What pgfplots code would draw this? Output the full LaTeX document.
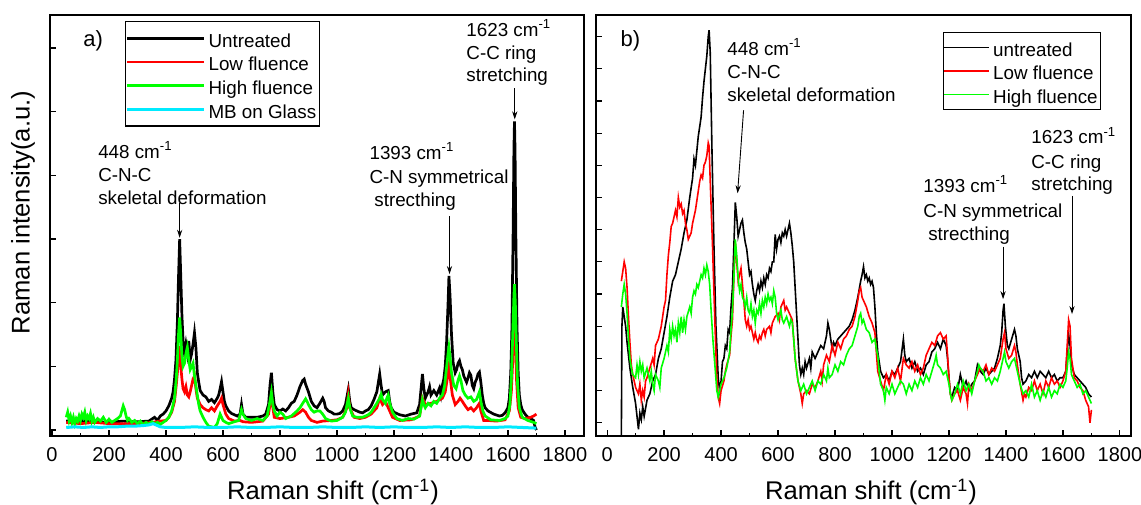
\documentclass[border=0pt]{standalone}
\usepackage{pgfplots}
\pgfplotsset{compat=1.18}
\usepackage{fontspec}
\setmainfont{Liberation Sans}
\usetikzlibrary{arrows.meta}

\definecolor{cred}{RGB}{255,0,0}
\definecolor{cgreen}{RGB}{0,255,0}
\definecolor{ccyan}{RGB}{0,235,255}

\pgfplotsset{
 ramanaxis/.style={
  scale only axis, anchor=south west, height=210.5pt,
  axis line style={line width=0.8pt},
  tick align=inside, tick pos=left,
  xtick={0,200,...,1800}, minor x tick num=1,
  major tick length=3pt, minor tick length=1.5pt,
  every tick/.style={black, line width=0.6pt},
  yticklabels={},
  tick label style={font=\fontsize{10}{12}\selectfont},
  /pgf/number format/assume math mode=true,
  /pgf/number format/1000 sep={},
  xticklabel style={yshift=-2pt},
  xlabel={Raman shift (cm\textsuperscript{-1})},
  label style={font=\fontsize{12.8}{15}\selectfont},
  legend style={font=\fontsize{9.4}{11}\selectfont, draw=black, line width=0.6pt, inner xsep=0pt, inner ysep=2.5pt, nodes={inner sep=1.5pt, text height=8.8pt, text depth=0pt}, row sep=0pt},
  legend cell align=left,
  no markers,
 },
}
\tikzset{
 annot/.style={font=\fontsize{9.4}{11}\selectfont, anchor=base west, inner sep=0pt},
 arr/.style={-{Stealth[length=4pt,width=2.6pt]}, line width=0.45pt, black},
 plab/.style={font=\fontsize{11}{13}\selectfont, anchor=base west, inner sep=0pt},
}

\begin{document}
\begin{tikzpicture}
\useasboundingbox (0,0) rectangle (570.5pt,252pt);

% ---------------- panel a ----------------
\begin{axis}[ramanaxis,
  at={(25pt,34pt)}, width=267pt,
  xmin=-7, xmax=1867, ymin=-0.094, ymax=6.52,
  ytick={0,1,2,3,4,5,6},
  ylabel={Raman intensity(a.u.)},
  ylabel style={at={(axis description cs:-0.0506,0.531)}, anchor=center},
  xlabel style={at={(axis description cs:0.530,-0.133)}, anchor=center},
  legend style={at={(0.1404,0.9857)}, anchor=north west},
  legend image code/.code={\path (0pt,0pt) -- (38.5pt,0pt); \draw[#1,line width=0.8pt] (17.5pt,0pt) -- (38.5pt,0pt);},
]
\addplot[black, line width=1.35pt] coordinates {
(50,0.14)(100,0.15)(150,0.13)(200,0.12)(250,0.14)(300,0.13)(340,0.14)(360,0.2)(370,0.15)(380,0.22)(390,0.25)(400,0.3)(410,0.38)(420,0.5)(425,0.6)(430,0.8)(435,1.1)(440,1.7)(444,2.4)(448,3.0)(452,2.4)(456,1.8)(460,1.4)(465,1.2)(470,1.35)(475,1.2)(480,1.4)(485,1.1)(490,1.2)(495,1.35)(500,1.53)(505,1.3)(510,0.9)(515,0.75)(520,0.62)(530,0.55)(540,0.52)(550,0.45)(560,0.48)(570,0.43)(580,0.5)(585,0.55)(590,0.65)(595,0.76)(600,0.6)(605,0.45)(610,0.38)(620,0.3)(630,0.26)(640,0.24)(650,0.22)(660,0.25)(665,0.4)(670,0.25)(680,0.2)(700,0.2)(720,0.2)(740,0.22)(750,0.25)(760,0.4)(765,0.7)(770,0.9)(775,0.6)(780,0.4)(790,0.32)(800,0.3)(810,0.33)(820,0.3)(830,0.35)(840,0.42)(850,0.45)(860,0.55)(870,0.68)(880,0.78)(885,0.8)(890,0.72)(900,0.6)(910,0.45)(920,0.38)(930,0.35)(940,0.42)(950,0.5)(955,0.45)(960,0.35)(970,0.3)(980,0.28)(990,0.25)(1000,0.25)(1010,0.26)(1020,0.3)(1030,0.4)(1040,0.64)(1045,0.45)(1050,0.35)(1060,0.32)(1070,0.3)(1080,0.28)(1090,0.27)(1100,0.3)(1110,0.32)(1120,0.38)(1130,0.48)(1140,0.6)(1150,0.88)(1155,0.7)(1160,0.55)(1170,0.6)(1180,0.62)(1185,0.45)(1190,0.35)(1200,0.28)(1220,0.24)(1240,0.22)(1260,0.25)(1280,0.27)(1290,0.4)(1300,0.88)(1305,0.65)(1310,0.5)(1320,0.6)(1325,0.68)(1330,0.55)(1340,0.62)(1350,0.55)(1360,0.66)(1365,0.55)(1370,0.7)(1375,0.8)(1380,1.0)(1385,1.4)(1390,2.0)(1393,2.42)(1397,2.1)(1402,1.5)(1408,1.05)(1415,0.9)(1420,0.95)(1425,1.05)(1430,1.09)(1435,1.0)(1440,0.95)(1445,0.85)(1450,0.8)(1455,0.75)(1460,0.82)(1465,0.9)(1470,0.86)(1475,0.7)(1480,0.65)(1485,0.75)(1490,0.8)(1495,0.88)(1500,0.91)(1505,0.75)(1510,0.55)(1515,0.42)(1520,0.35)(1530,0.3)(1550,0.25)(1570,0.22)(1580,0.23)(1590,0.27)(1600,0.35)(1605,0.5)(1610,0.9)(1614,1.6)(1618,3.0)(1621,4.4)(1623,4.85)(1625,4.4)(1628,3.0)(1632,1.6)(1636,0.9)(1640,0.55)(1645,0.4)(1650,0.32)(1660,0.25)(1670,0.2)(1680,0.18)(1690,0.15)(1695,0.05)(1700,0.0)};
\addlegendentry{Untreated}
\addplot[cred, line width=1.35pt] coordinates {
(50,0.12)(100,0.1)(150,0.12)(200,0.1)(250,0.1)(300,0.1)(350,0.12)(380,0.14)(400,0.15)(410,0.2)(420,0.28)(430,0.45)(436,0.7)(440,0.9)(444,1.1)(448,1.32)(452,1.0)(456,0.8)(460,0.65)(465,0.6)(470,0.68)(475,0.55)(480,0.52)(485,0.6)(490,0.7)(495,0.8)(500,0.85)(505,0.65)(510,0.5)(520,0.4)(530,0.35)(540,0.32)(550,0.3)(560,0.35)(570,0.3)(580,0.38)(590,0.45)(595,0.5)(600,0.4)(610,0.25)(620,0.18)(640,0.14)(660,0.15)(670,0.13)(700,0.12)(740,0.14)(760,0.25)(770,0.55)(775,0.35)(780,0.2)(800,0.18)(830,0.2)(850,0.22)(870,0.28)(880,0.32)(890,0.28)(900,0.2)(910,0.15)(930,0.12)(950,0.14)(980,0.15)(1000,0.16)(1020,0.2)(1035,0.35)(1040,0.55)(1045,0.35)(1060,0.2)(1080,0.18)(1100,0.2)(1120,0.25)(1140,0.35)(1150,0.5)(1160,0.4)(1170,0.45)(1180,0.35)(1195,0.2)(1220,0.15)(1260,0.16)(1290,0.22)(1300,0.5)(1310,0.4)(1330,0.42)(1350,0.45)(1370,0.5)(1380,0.6)(1387,0.8)(1393,1.0)(1398,0.8)(1405,0.55)(1415,0.4)(1425,0.45)(1432,0.5)(1440,0.45)(1450,0.38)(1460,0.32)(1470,0.35)(1480,0.3)(1490,0.35)(1500,0.42)(1505,0.3)(1515,0.15)(1530,0.15)(1560,0.14)(1590,0.16)(1605,0.3)(1612,0.6)(1617,1.1)(1621,1.7)(1623,1.85)(1626,1.5)(1630,0.8)(1636,0.35)(1645,0.2)(1660,0.18)(1680,0.2)(1690,0.22)(1700,0.25)};
\addlegendentry{Low fluence}
\addplot[cgreen, line width=1.35pt] coordinates {
(50,0.2)(55,0.28)(60,0.15)(65,0.22)(70,0.12)(75,0.2)(80,0.1)(85,0.18)(90,0.14)(95,0.22)(100,0.15)(105,0.25)(110,0.2)(115,0.28)(120,0.15)(125,0.22)(130,0.18)(135,0.26)(140,0.14)(145,0.2)(150,0.12)(160,0.18)(170,0.14)(180,0.2)(190,0.12)(200,0.17)(210,0.12)(220,0.15)(230,0.18)(240,0.22)(245,0.3)(250,0.38)(255,0.32)(260,0.22)(265,0.15)(270,0.18)(280,0.12)(290,0.15)(300,0.1)(310,0.14)(320,0.08)(330,0.12)(340,0.09)(350,0.13)(360,0.1)(370,0.12)(380,0.09)(390,0.12)(400,0.15)(410,0.2)(420,0.3)(430,0.5)(436,0.8)(440,1.1)(444,1.5)(448,1.77)(452,1.5)(456,1.15)(460,1.0)(465,1.05)(470,1.2)(475,1.3)(480,1.1)(485,0.95)(490,1.0)(495,1.05)(500,0.85)(505,0.7)(510,0.55)(515,0.4)(520,0.3)(530,0.2)(540,0.12)(550,0.06)(560,0.05)(570,0.04)(580,0.1)(590,0.25)(595,0.2)(600,0.15)(610,0.12)(620,0.1)(640,0.13)(655,0.15)(665,0.32)(670,0.25)(680,0.18)(700,0.15)(720,0.18)(740,0.15)(755,0.22)(765,0.45)(770,0.59)(775,0.4)(780,0.3)(790,0.22)(800,0.28)(810,0.25)(820,0.18)(840,0.22)(860,0.3)(870,0.35)(880,0.42)(890,0.49)(895,0.45)(900,0.4)(910,0.32)(920,0.28)(930,0.3)(940,0.3)(950,0.25)(960,0.18)(980,0.14)(1000,0.15)(1020,0.2)(1030,0.28)(1040,0.5)(1045,0.35)(1055,0.22)(1070,0.2)(1090,0.2)(1110,0.24)(1120,0.28)(1130,0.35)(1140,0.42)(1150,0.5)(1155,0.56)(1160,0.48)(1170,0.42)(1175,0.5)(1180,0.55)(1185,0.42)(1195,0.28)(1210,0.18)(1230,0.15)(1250,0.18)(1270,0.17)(1290,0.22)(1300,0.48)(1305,0.4)(1310,0.35)(1320,0.42)(1330,0.38)(1340,0.45)(1350,0.42)(1360,0.5)(1370,0.55)(1378,0.7)(1385,1.0)(1390,1.2)(1393,1.3)(1397,1.15)(1402,0.9)(1410,0.7)(1418,0.65)(1425,0.78)(1430,0.85)(1435,0.78)(1442,0.62)(1450,0.55)(1460,0.5)(1470,0.52)(1480,0.45)(1490,0.48)(1500,0.6)(1505,0.45)(1512,0.3)(1520,0.22)(1540,0.16)(1570,0.15)(1590,0.18)(1600,0.22)(1607,0.4)(1612,0.8)(1617,1.5)(1621,2.1)(1623,2.29)(1626,2.0)(1630,1.3)(1634,0.7)(1640,0.35)(1650,0.2)(1670,0.15)(1690,0.12)(1700,0.1)};
\addlegendentry{High fluence}
\addplot[ccyan, line width=1.5pt] coordinates {
(50,0.04)(80,0.05)(110,0.04)(140,0.05)(170,0.04)(200,0.05)(230,0.05)(260,0.06)(290,0.06)(320,0.07)(340,0.08)(355,0.1)(365,0.08)(380,0.05)(400,0.04)(450,0.04)(500,0.05)(550,0.04)(600,0.04)(650,0.05)(700,0.04)(750,0.04)(800,0.05)(850,0.04)(900,0.04)(950,0.05)(1000,0.04)(1050,0.04)(1100,0.05)(1150,0.04)(1200,0.05)(1250,0.04)(1300,0.04)(1350,0.05)(1400,0.04)(1450,0.05)(1500,0.04)(1550,0.04)(1600,0.05)(1650,0.04)(1700,0.03)};
\addlegendentry{MB on Glass}

\node[plab] at (axis cs:109,6.02) {a)};
\node[annot] at (axis cs:161,4.273) {448 cm\textsuperscript{-1}};
\node[annot] at (axis cs:161,3.897) {C-N-C};
\node[annot] at (axis cs:161,3.548) {skeletal deformation};
\draw[arr] (axis cs:448,3.57) -- (axis cs:448,3.02);
\node[annot] at (axis cs:1113,4.248) {1393 cm\textsuperscript{-1}};
\node[annot] at (axis cs:1113,3.871) {C-N symmetrical};
\node[annot] at (axis cs:1130,3.517) {strecthing};
\draw[arr] (axis cs:1395,3.36) -- (axis cs:1395,2.45);
\node[annot] at (axis cs:1453,6.18) {1623 cm\textsuperscript{-1}};
\node[annot] at (axis cs:1453,5.815) {C-C ring};
\node[annot] at (axis cs:1453,5.476) {stretching};
\draw[arr] (axis cs:1624,5.37) -- (axis cs:1624,4.88);
\end{axis}

% ---------------- panel b ----------------
\begin{axis}[ramanaxis,
  at={(298pt,34pt)}, width=267.5pt,
  xmin=-39, xmax=1839, ymin=-0.41, ymax=12.67,
  ytick={0,1,...,12},
  xlabel style={at={(axis description cs:0.514,-0.133)}, anchor=center},
  legend style={at={(0.6486,0.9596)}, anchor=north west, inner ysep=1.5pt},
  legend image code/.code={\path (0pt,0pt) -- (22.5pt,0pt); \draw[#1,line width=0.8pt] (1pt,0pt) -- (22.5pt,0pt);},
]
\addplot[black, line width=0.8pt] coordinates {
(50,-0.41)(52,3.0)(55,3.6)(60,3.3)(65,3.0)(70,2.5)(80,1.7)(90,1.1)(100,0.6)(105,0.2)(110,-0.2)(115,0.3)(120,0.1)(125,0.5)(130,0.2)(140,0.7)(150,0.9)(160,1.3)(170,1.5)(180,2.0)(190,2.3)(200,2.8)(210,3.3)(220,3.9)(230,4.4)(240,4.6)(250,5.0)(260,5.4)(270,5.9)(280,6.3)(290,7.0)(300,7.6)(305,8.2)(310,8.0)(320,8.9)(330,9.5)(335,10.1)(340,10.6)(345,11.0)(350,11.4)(355,12.0)(358,12.2)(362,11.5)(368,8.5)(375,5.5)(382,3.0)(390,1.4)(395,1.0)(400,1.3)(405,1.9)(410,2.0)(415,2.4)(420,2.3)(425,2.9)(430,2.8)(435,3.6)(440,4.2)(445,5.5)(450,6.85)(455,6.4)(460,5.8)(465,6.0)(470,6.2)(475,6.3)(480,5.9)(485,5.6)(490,5.4)(495,5.0)(500,4.6)(505,4.7)(510,4.3)(515,4.0)(520,3.8)(525,4.1)(530,4.3)(535,4.1)(540,4.4)(545,4.2)(550,4.5)(555,4.3)(560,4.6)(565,4.5)(570,4.8)(575,4.7)(580,5.0)(585,5.0)(590,5.85)(595,5.4)(600,5.7)(605,5.8)(610,5.6)(615,5.9)(620,5.8)(625,6.0)(630,5.8)(635,6.0)(640,6.2)(645,5.9)(650,5.5)(655,5.0)(660,4.2)(665,3.4)(670,2.6)(675,1.8)(680,1.5)(685,1.7)(690,1.5)(695,1.9)(700,1.7)(710,2.0)(715,1.7)(720,2.2)(730,2.0)(740,2.2)(750,2.4)(760,2.3)(770,2.7)(775,3.1)(780,2.9)(785,2.6)(790,2.3)(795,2.5)(800,2.4)(810,2.6)(820,2.7)(830,2.8)(840,2.9)(850,3.0)(860,3.2)(870,3.5)(880,3.9)(890,4.4)(895,4.6)(900,4.85)(905,4.5)(910,4.6)(915,4.4)(920,4.5)(925,4.3)(930,4.4)(935,4.2)(940,3.6)(945,2.8)(950,2.2)(955,1.9)(960,1.6)(970,1.4)(980,1.5)(990,1.3)(1000,1.6)(1010,1.5)(1020,1.7)(1030,1.9)(1040,2.6)(1045,2.1)(1050,1.9)(1060,2.0)(1070,1.7)(1080,1.9)(1090,1.6)(1100,1.7)(1110,1.5)(1120,1.8)(1130,1.9)(1140,2.2)(1150,2.3)(1160,2.5)(1170,2.3)(1180,2.6)(1190,2.4)(1195,2.0)(1200,1.4)(1205,0.9)(1210,0.8)(1220,1.1)(1230,1.0)(1240,1.5)(1250,1.1)(1260,1.3)(1270,1.0)(1280,1.2)(1290,1.3)(1300,1.8)(1310,1.6)(1320,1.5)(1330,1.7)(1340,1.5)(1350,1.6)(1360,1.7)(1370,2.0)(1380,2.4)(1385,2.8)(1390,3.5)(1393,3.7)(1398,3.0)(1405,2.4)(1410,2.3)(1420,2.6)(1430,2.9)(1435,2.7)(1440,2.3)(1450,1.9)(1455,1.4)(1460,1.2)(1470,1.3)(1480,1.5)(1490,1.4)(1500,1.6)(1510,1.4)(1520,1.6)(1530,1.5)(1540,1.4)(1550,1.6)(1560,1.4)(1570,1.5)(1580,1.3)(1590,1.4)(1600,1.4)(1610,1.6)(1615,2.2)(1620,2.75)(1625,2.4)(1630,1.8)(1640,1.5)(1650,1.4)(1660,1.3)(1670,1.2)(1680,1.1)(1690,0.9)(1700,0.8)};
\addlegendentry{untreated}
\addplot[cred, line width=0.8pt] coordinates {
(50,4.4)(55,4.7)(60,5.0)(65,4.8)(70,4.2)(75,3.3)(80,2.5)(85,1.8)(90,1.5)(100,1.1)(110,0.9)(115,1.2)(120,0.7)(125,1.0)(130,0.8)(135,1.3)(140,1.4)(150,1.7)(160,2.0)(165,1.8)(170,2.4)(180,2.6)(190,3.0)(200,3.6)(205,3.8)(210,4.6)(215,5.2)(220,5.6)(225,6.1)(230,6.2)(240,6.6)(245,6.4)(250,7.0)(255,6.7)(260,6.8)(265,6.5)(270,6.6)(275,6.2)(280,6.0)(285,5.7)(290,5.8)(295,5.9)(300,6.2)(310,6.6)(320,7.2)(325,7.5)(330,7.7)(335,7.6)(340,8.0)(345,8.1)(350,8.3)(355,8.7)(358,8.6)(362,7.5)(370,5.5)(378,3.2)(385,1.4)(390,0.8)(395,0.6)(400,1.0)(410,1.3)(415,1.6)(420,1.8)(430,2.1)(435,2.7)(440,3.2)(445,4.5)(450,5.6)(455,5.0)(460,4.4)(465,4.6)(470,4.8)(475,4.3)(480,3.8)(485,3.2)(490,3.0)(495,3.2)(500,2.9)(505,3.0)(510,2.8)(515,2.6)(520,2.8)(525,2.6)(530,2.5)(535,2.7)(540,2.6)(545,2.8)(550,2.9)(555,2.7)(560,2.9)(570,3.0)(575,2.8)(580,3.1)(590,3.3)(600,3.4)(605,3.2)(610,3.6)(620,3.8)(625,3.5)(630,3.6)(640,3.4)(650,3.2)(655,2.6)(660,2.0)(670,1.3)(680,0.9)(685,0.6)(690,0.9)(700,1.0)(710,0.9)(720,1.2)(730,1.1)(740,1.3)(750,1.6)(755,1.3)(760,1.8)(770,2.1)(780,1.9)(790,2.4)(800,2.1)(810,2.5)(820,2.3)(830,2.6)(840,2.7)(850,2.9)(860,3.0)(870,3.3)(880,3.8)(885,4.1)(890,4.2)(895,3.9)(900,3.8)(910,3.6)(920,3.3)(930,3.1)(940,2.8)(945,2.2)(950,1.6)(960,1.3)(970,1.0)(980,1.5)(990,1.2)(1000,1.6)(1010,1.4)(1020,1.7)(1030,1.3)(1040,2.0)(1050,1.8)(1060,1.7)(1070,1.9)(1080,1.6)(1090,1.8)(1100,1.5)(1110,1.7)(1120,2.1)(1130,2.3)(1140,2.5)(1150,2.4)(1160,2.7)(1170,2.8)(1180,2.6)(1190,2.7)(1195,2.1)(1200,1.4)(1205,0.9)(1210,0.7)(1220,0.9)(1230,1.0)(1240,0.7)(1250,1.1)(1260,0.9)(1265,0.6)(1270,1.2)(1280,1.0)(1290,1.3)(1300,1.5)(1310,1.7)(1320,1.6)(1330,1.8)(1340,1.5)(1350,1.7)(1360,1.6)(1370,1.8)(1380,2.0)(1390,2.6)(1395,2.8)(1400,2.3)(1410,2.0)(1420,2.1)(1430,2.4)(1435,2.2)(1440,1.8)(1450,1.2)(1460,0.7)(1465,0.9)(1470,0.8)(1480,1.1)(1490,1.0)(1500,1.3)(1510,1.0)(1520,1.2)(1530,0.9)(1540,1.3)(1550,1.1)(1560,1.4)(1570,1.2)(1580,1.3)(1590,1.1)(1600,1.3)(1610,1.6)(1615,2.4)(1620,3.2)(1625,3.0)(1630,2.0)(1640,1.4)(1650,1.3)(1660,1.1)(1670,1.0)(1680,0.7)(1690,0.5)(1695,0.0)(1700,0.4)};
\addlegendentry{Low fluence}
\addplot[cgreen, line width=0.8pt] coordinates {
(50,3.6)(55,4.0)(60,4.3)(65,4.0)(70,3.4)(75,2.6)(80,2.0)(85,1.7)(90,1.5)(100,1.4)(105,1.8)(110,1.5)(115,1.9)(120,1.6)(125,1.8)(130,1.4)(140,1.7)(150,1.3)(155,1.6)(160,1.2)(165,1.0)(170,1.5)(180,1.3)(185,1.1)(190,1.7)(200,2.0)(210,2.4)(215,2.2)(220,2.9)(225,2.6)(230,3.0)(235,2.7)(240,2.9)(245,2.5)(250,3.1)(255,2.8)(260,3.3)(265,2.8)(270,3.2)(275,2.9)(280,3.3)(290,3.6)(295,3.4)(300,3.9)(305,4.1)(310,4.0)(315,4.3)(320,4.2)(325,4.4)(330,4.6)(335,4.5)(340,4.8)(345,4.6)(350,4.9)(355,4.7)(360,4.3)(365,3.5)(372,2.5)(380,1.6)(385,1.0)(390,0.8)(395,1.0)(400,1.2)(410,1.4)(420,1.7)(430,2.2)(435,2.9)(440,3.5)(445,4.5)(450,5.7)(455,5.2)(460,4.5)(465,4.1)(470,4.3)(475,3.9)(480,3.8)(485,3.6)(490,3.9)(495,3.5)(500,3.4)(505,3.7)(510,3.3)(515,3.5)(520,3.1)(525,3.5)(530,3.4)(535,3.7)(540,3.4)(545,3.8)(550,3.6)(555,3.9)(560,3.7)(565,4.0)(570,3.8)(575,3.9)(580,3.7)(585,4.1)(590,3.9)(595,3.4)(600,3.2)(610,3.5)(615,3.2)(620,3.1)(630,3.3)(640,3.0)(645,3.2)(650,3.1)(655,2.6)(660,2.0)(670,1.3)(680,1.0)(690,1.2)(700,0.9)(710,1.1)(720,1.3)(730,1.0)(740,1.3)(750,1.2)(760,1.5)(770,1.3)(775,1.7)(780,1.4)(790,1.5)(800,1.8)(810,1.6)(820,1.9)(830,1.8)(840,2.1)(850,2.3)(860,2.4)(870,2.7)(880,3.0)(885,3.3)(890,3.4)(895,3.1)(900,3.2)(910,2.9)(920,2.8)(930,2.5)(940,2.6)(945,2.3)(950,2.1)(955,1.6)(960,1.2)(970,1.0)(975,0.7)(980,1.1)(990,0.9)(1000,1.2)(1010,0.9)(1020,1.1)(1030,1.3)(1040,1.2)(1050,0.9)(1060,1.2)(1070,1.0)(1080,1.3)(1090,1.1)(1100,1.4)(1110,1.2)(1120,1.5)(1130,1.3)(1140,1.6)(1150,1.9)(1155,2.1)(1160,1.8)(1170,1.7)(1180,1.5)(1190,1.6)(1200,1.2)(1205,0.9)(1210,0.7)(1220,0.9)(1230,1.2)(1240,0.9)(1250,1.3)(1260,1.0)(1270,1.2)(1280,0.9)(1290,1.3)(1300,1.6)(1305,1.8)(1310,1.7)(1320,1.6)(1330,1.3)(1340,1.4)(1350,1.2)(1360,1.4)(1370,1.3)(1380,1.6)(1390,2.0)(1395,2.2)(1400,1.9)(1410,1.7)(1420,1.9)(1430,2.0)(1440,1.6)(1450,1.2)(1460,0.9)(1470,1.0)(1480,0.8)(1490,1.2)(1500,0.8)(1510,1.0)(1520,0.7)(1530,1.0)(1540,0.8)(1550,1.1)(1560,0.8)(1570,1.0)(1580,0.9)(1590,1.2)(1600,1.1)(1610,1.3)(1615,1.7)(1620,2.2)(1625,2.0)(1630,1.5)(1640,1.3)(1650,1.1)(1660,1.2)(1670,0.9)(1680,1.0)(1690,0.8)(1700,0.6)};
\addlegendentry{High fluence}

\node[plab] at (axis cs:46,11.68) {b)};
\node[annot] at (axis cs:421,11.42) {448 cm\textsuperscript{-1}};
\node[annot] at (axis cs:421,10.69) {C-N-C};
\node[annot] at (axis cs:421,9.98) {skeletal deformation};
\draw[arr] (axis cs:479,9.71) -- (axis cs:458,7.13);
\node[annot] at (axis cs:1109,7.165) {1393 cm\textsuperscript{-1}};
\node[annot] at (axis cs:1109,6.386) {C-N symmetrical};
\node[annot] at (axis cs:1126,5.673) {strecthing};
\draw[arr] (axis cs:1390,5.47) -- (axis cs:1390,3.84);
\node[annot] at (axis cs:1488,8.67) {1623 cm\textsuperscript{-1}};
\node[annot] at (axis cs:1488,7.89) {C-C ring};
\node[annot] at (axis cs:1488,7.23) {stretching};
\draw[arr] (axis cs:1632,7.05) -- (axis cs:1632,3.38);
\end{axis}
\end{tikzpicture}
\end{document}
